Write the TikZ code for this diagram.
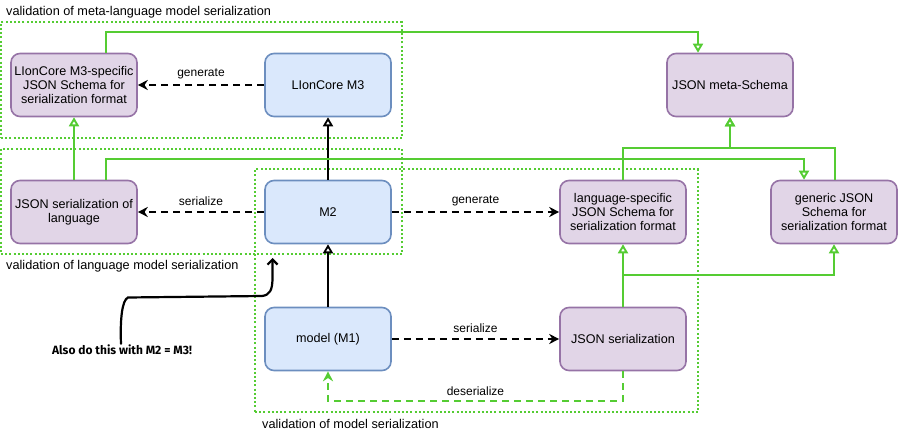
\documentclass[tikz,border=0pt]{standalone}
\usepackage{fontspec}
\setmainfont{Liberation Sans}
\newfontfamily\handfont{Fira Sans}
\usetikzlibrary{arrows.meta}
\definecolor{bfill}{HTML}{DAE8FC}
\definecolor{bdraw}{HTML}{6C8EBF}
\definecolor{pfill}{HTML}{E1D5E7}
\definecolor{pdraw}{HTML}{9673A6}
\definecolor{gline}{HTML}{55CC33}
\tikzset{
  box/.style={rounded corners=9pt, line width=1.6pt, minimum width=126pt, minimum height=63pt,
              align=center, font=\fontsize{12.6}{14.2}\selectfont, inner sep=2pt},
  bluebox/.style={box, fill=bfill, draw=bdraw},
  purpbox/.style={box, fill=pfill, draw=pdraw},
  cont/.style={draw=gline, line width=2pt, dash pattern=on 2pt off 2.2pt, minimum width=#1},
  contlabel/.style={font=\fontsize{12.7}{14}\selectfont, inner sep=0pt, anchor=west},
  elabel/.style={font=\fontsize{12}{13}\selectfont, inner sep=1pt},
  bdash/.style={draw=black, line width=1.8pt, dash pattern=on 7pt off 5pt, -{Stealth[length=10pt,width=10pt]}},
  bopen/.style={draw=black, line width=1.8pt, -{Triangle[open,length=9pt,width=10pt]}},
  gopen/.style={draw=gline, line width=1.9pt, -{Triangle[open,length=9pt,width=10pt]}},
  gdash/.style={draw=gline, line width=1.9pt, dash pattern=on 7pt off 5pt, -{Stealth[length=10pt,width=10pt]}},
}
\begin{document}
\begin{tikzpicture}[x=1pt,y=-1pt]
\useasboundingbox (0,0) rectangle (900,435);

% containers
\node[cont=401pt, minimum height=116pt] (cmeta) at (201.5,80) {};
\node[cont=401pt, minimum height=105pt] (clang) at (201.5,201.5) {};
\node[cont=443pt, minimum height=243pt] (cmodel) at (476.5,291) {};
\node[contlabel] (lmeta) at (6,12) {validation of meta-language model serialization};
\node[contlabel] (llang) at (6,266) {validation of language model serialization};
\node[contlabel] (lmodel) at (262,424) {validation of model serialization};

% nodes
\node[purpbox] (A) at (74,85) {LIonCore M3-specific\\JSON Schema for\\serialization format};
\node[bluebox] (B) at (328,85) {LIonCore M3};
\node[purpbox] (C) at (730,85) {JSON meta-Schema};
\node[purpbox] (D) at (74,212) {JSON serialization of\\language};
\node[bluebox] (E) at (328,212) {M2};
\node[purpbox] (F) at (623,212) {language-specific\\JSON Schema for\\serialization format};
\node[purpbox] (G) at (834,212) {generic JSON\\Schema for\\serialization format};
\node[bluebox] (H) at (328,339) {model (M1)};
\node[purpbox] (I) at (623,339) {JSON serialization};

% black connectors
\draw[bdash] (B.west) -- node[elabel, above=4pt] (t1) {generate} (A.east);
\draw[bdash] (E.west) -- node[elabel, above=4pt] (t2) {serialize} (D.east);
\draw[bdash] (E.east) -- node[elabel, above=4pt] (t3) {generate} (F.west);
\draw[bdash] (H.east) -- node[elabel, above=4pt] (t4) {serialize} (I.west);
\draw[bopen] (E.north) -- (B.south);
\draw[bopen] (H.north) -- (E.south);

% green connectors
\draw[gopen] (D.north) -- (A.south);
\coordinate (a1) at ([xshift=32pt]A.north);
\coordinate (c1) at ([xshift=-32pt]C.north);
\draw[gopen] (a1) -- (a1 |- 0,32) -| (c1);
\coordinate (d1) at ([xshift=32pt]D.north);
\coordinate (g1) at ([xshift=-30pt]G.north);
\draw[gopen] (d1) -- (d1 |- 0,159) -| (g1);
\draw[gopen] (F.north) -- (F.north |- 0,148) -| (C.south);
\coordinate (g2) at ([xshift=1pt]G.north);
\draw[gopen] (g2) -- (g2 |- 0,148) -| (C.south);
\draw[gopen] (I.north) -- (F.south);
\coordinate (i1) at (623,275);
\draw[gopen] (I.north) -- (i1) -| (G.south);
\coordinate (i2) at (623,401);
\draw[gdash] (I.south) -- (i2) -| node[elabel, pos=0.25, above=3pt] (t5) {deserialize} (H.south);

% hand-drawn note
\node[font=\handfont\bfseries\fontsize{12}{14}\selectfont, inner sep=1pt] (note) at (122,350) {Also do this with M2 = M3!};
\coordinate (tip) at (272.5,258);
\draw[line width=2.2pt, line cap=round, -{Straight Barb[length=5pt,width=10pt]}]
  ([xshift=-1pt]note.north) .. controls (120,320) and (122,300) .. (128,297.5)
  -- (262,296) .. controls (270,295) and (272,290) .. (272.5,280) -- (tip);
\end{tikzpicture}
\end{document}
